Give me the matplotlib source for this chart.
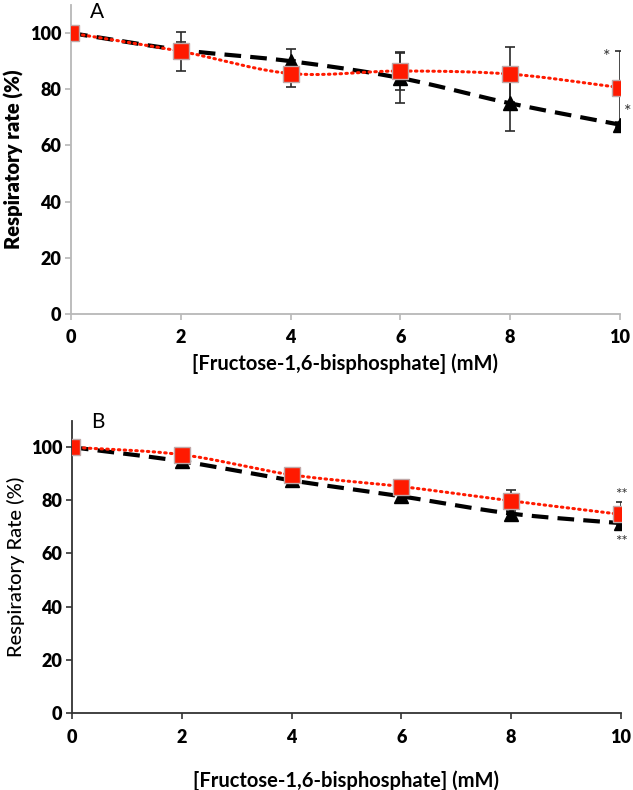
import numpy as np
import matplotlib.pyplot as plt

plt.rcParams['font.family'] = ['Lato', 'DejaVu Sans']

# data -------------
conc = [0, 2, 4, 6, 8, 10]

a_square = [100, 93.5, 85.6, 86.5, 85.4, 80.6]
a_square_err = [0, 7.0, 4.7, 6.8, 9.8, 13.0]
a_triangle = [100, 94.0, 90.0, 84.0, 75.0, 67.4]
a_triangle_err = [0, 3.0, 4.4, 9.0, 10.0, 1.0]

b_square = [100, 97.2, 89.6, 85.2, 79.8, 74.7]
b_square_err = [0, 1.0, 1.5, 1.5, 4.0, 4.5]
b_triangle = [100, 94.7, 87.5, 81.5, 75.0, 71.4]
b_triangle_err = [0, 1.5, 1.5, 1.5, 2.0, 2.0]

xticks = [0, 2, 4, 6, 8, 10]
yticks = [0, 20, 40, 60, 80, 100]
xlabel = '[Fructose-1,6-bisphosphate] (mM)'
# ------------------

red = '#ff1a00'
tick_font = dict(fontsize=13, fontweight='heavy')


def smooth(x, y, n=40):
	# catmull-rom curve through the points, like a spreadsheet "smoothed line"
	x = np.asarray(x, float)
	y = np.asarray(y, float)
	px = np.concatenate([[2*x[0]-x[1]], x, [2*x[-1]-x[-2]]])
	py = np.concatenate([[2*y[0]-y[1]], y, [2*y[-1]-y[-2]]])
	t = np.linspace(0, 1, n)[:, None]
	xs, ys = [], []
	for i in range(1, len(px)-2):
		for p, out in ((px, xs), (py, ys)):
			p0, p1, p2, p3 = p[i-1], p[i], p[i+1], p[i+2]
			seg = 0.5*((2*p1) + (-p0+p2)*t + (2*p0-5*p1+4*p2-p3)*t**2 + (-p0+3*p1-3*p2+p3)*t**3)
			out.append(seg.ravel())
	return np.concatenate(xs), np.concatenate(ys)


def panel(ax, sq, sq_err, tri, tri_err, spine_color):
	ax.errorbar(conc, tri, yerr=tri_err, fmt='none', ecolor='#2a2a2a', elinewidth=1.2, capsize=3.5, capthick=1.2, zorder=2)
	ax.errorbar(conc, sq, yerr=sq_err, fmt='none', ecolor='#2a2a2a', elinewidth=1.2, capsize=3.5, capthick=1.2, zorder=2)
	sx, sy = smooth(conc, tri)
	ax.plot(sx, sy, color='black', lw=3, linestyle=(0, (4, 2.2)), zorder=3)
	ax.plot(conc, tri, linestyle='none', marker='^', ms=10, color='black', zorder=4)
	sx, sy = smooth(conc, sq)
	ax.plot(sx, sy, color=red, lw=2.2, linestyle=(0, (0.5, 1.4)), dash_capstyle='round', zorder=5)
	ax.plot(conc, sq, linestyle='none', marker='s', ms=11, color=red, mec='#c0a8a8', mew=1, zorder=6)

	ax.set_xlim(0, 10)
	ax.set_ylim(0, 110)
	ax.set_xticks(xticks)
	ax.set_yticks(yticks)
	ax.set_xticklabels([str(v) for v in xticks], **tick_font)
	ax.set_yticklabels([str(v) for v in yticks], **tick_font)
	for s in ['top', 'right']:
		ax.spines[s].set_visible(False)
	for s in ['left', 'bottom']:
		ax.spines[s].set_color(spine_color)
		ax.spines[s].set_linewidth(1.3)
	ax.tick_params(direction='out', length=4, width=1.2, color=spine_color)
	ax.tick_params(axis='y', pad=3)


fig = plt.figure(figsize=(6.33, 7.90), dpi=100)
ax1 = fig.add_axes([0.1122, 0.6025, 0.8672, 0.3912])
ax2 = fig.add_axes([0.1137, 0.0978, 0.8673, 0.3697])

panel(ax1, a_square, a_square_err, a_triangle, a_triangle_err, '#b8b8b8')
ax1.tick_params(axis='x', pad=7)
ax1.set_ylabel('Respiratory rate (%)', fontsize=14.5, fontweight='heavy', labelpad=4)
ax1.set_xlabel(xlabel, fontsize=14.5, fontweight='bold', labelpad=5)
ax1.text(0.47, 107.5, 'A', fontsize=15, ha='center', va='center', clip_on=False)
ax1.text(9.76, 91.5, '*', fontsize=13, ha='center', va='center', color='#333333', clip_on=False)
ax1.text(10.15, 72.0, '*', fontsize=13, ha='center', va='center', color='#333333', clip_on=False)

panel(ax2, b_square, b_square_err, b_triangle, b_triangle_err, '#333333')
ax2.tick_params(axis='x', pad=8)
ax2.set_ylabel('Respiratory Rate (%)', fontsize=14.5, fontweight='medium', labelpad=4)
ax2.set_xlabel(xlabel, fontsize=14.5, fontweight='bold', labelpad=17)
ax2.text(0.47, 109.6, 'B', fontsize=15, ha='center', va='center', clip_on=False)
ax2.text(10.0, 82.0, '**', fontsize=11, ha='center', va='center', color='#333333', clip_on=False)
ax2.text(10.0, 64.2, '**', fontsize=11, ha='center', va='center', color='#333333', clip_on=False)

fig.savefig('out.png', dpi=100)
